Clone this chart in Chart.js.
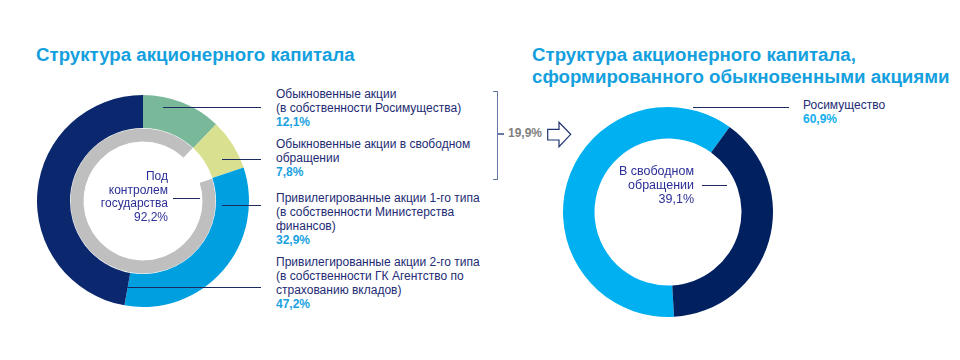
<!DOCTYPE html>
<html lang="ru">
  <head>
    <meta charset="UTF-8" />
    <title>Структура акционерного капитала</title>
    <style>
      body {
        margin: 0;
        width: 960px;
        height: 360px;
        background: #fff;
        position: relative;
        overflow: hidden;
        font-family: "Liberation Sans", Arial, sans-serif;
        color: #232b74;
      }
      .abs { position: absolute; }
      .title {
        font-size: 18.7px;
        font-weight: bold;
        color: #14a0de;
        line-height: 22px;
        white-space: nowrap;
      }
      .lbl {
        font-size: 12px;
        line-height: 14px;
        white-space: nowrap;
      }
      .pct { color: #1aa2e0; font-weight: bold; }
      .center {
        font-size: 12px;
        line-height: 13.6px;
        text-align: right;
        color: #2b2e96;
        white-space: nowrap;
      }
      .lead { position: absolute; height: 1px; background: #1d2a62; }
      .chart { position: absolute; width: 220px; height: 220px; }
    </style>
  </head>
  <body>
    <div class="abs title" style="left: 36px; top: 44px">Структура акционерного капитала</div>
    <div class="abs title" style="left: 532px; top: 44px">
      Структура акционерного капитала,<br />сформированного обыкновенными акциями
    </div>

    <div class="chart" style="left: 32.5px; top: 91px"><canvas id="leftChart" width="220" height="220"></canvas></div>
    <div class="chart" style="left: 558.3px; top: 102px"><canvas id="rightChart" width="220" height="220"></canvas></div>

    <!-- подписи левой диаграммы -->
    <div class="abs lbl" style="left: 276px; top: 87px">
      Обыкновенные акции<br />(в собственности Росимущества)<br /><span class="pct" id="v0"></span>
    </div>
    <div class="abs lbl" style="left: 276px; top: 137px">
      Обыкновенные акции в свободном<br />обращении<br /><span class="pct" id="v1"></span>
    </div>
    <div class="abs lbl" style="left: 276px; top: 191px">
      Привилегированные акции 1-го типа<br />(в собственности Министерства<br />финансов)<br /><span class="pct" id="v2"></span>
    </div>
    <div class="abs lbl" style="left: 276px; top: 255px">
      Привилегированные акции 2-го типа<br />(в собственности ГК Агентство по<br />страхованию вкладов)<br /><span class="pct" id="v3"></span>
    </div>

    <div class="abs center" style="right: 792px; top: 170px">
      Под<br />контролем<br />государства<br /><span id="vState"></span>
    </div>

    <div class="lead" style="left: 163px; width: 98px; top: 107px"></div>
    <div class="lead" style="left: 222px; width: 39px; top: 159px"></div>
    <div class="lead" style="left: 222px; width: 39px; top: 205px"></div>
    <div class="lead" style="left: 127px; width: 134px; top: 287px"></div>
    <div class="lead" style="left: 173px; width: 27px; top: 198px"></div>

    <!-- скобка и стрелка -->
    <div class="abs" style="left: 493px; top: 91px; width: 4px; height: 87px; border: 1.5px solid #6878a6; border-left: none"></div>
    <div class="abs" style="left: 498px; top: 133px; width: 6px; height: 1.5px; background: #6878a6"></div>
    <div class="abs lbl" id="sumLbl" style="left: 508px; top: 126px; color: #808080; font-weight: bold"></div>
    <svg class="abs" style="left: 540px; top: 118px" width="40" height="34">
      <polygon points="7.7,11.3 19,11.3 19,4.3 30.7,16.3 19,28.7 19,22 7.7,22" fill="#fff" stroke="#1f3370" stroke-width="1.2" />
    </svg>

    <!-- подписи правой диаграммы -->
    <div class="abs lbl" style="left: 803px; top: 99px; line-height: 13.5px">
      Росимущество<br /><span class="pct" id="r0" style="color: #12aeec"></span>
    </div>
    <div class="abs center" style="right: 266px; top: 164px; line-height: 14px; font-size: 12.5px">
      В свободном<br />обращении<br /><span id="r1"></span>
    </div>
    <div class="lead" style="left: 693px; width: 96px; top: 107px"></div>
    <div class="lead" style="left: 702px; width: 25px; top: 185px"></div>

    <script src="https://cdn.jsdelivr.net/npm/chart.js"></script>
    <script>
      // структура акционерного капитала, %
      const leftLabels = [
        "Обыкновенные акции (в собственности Росимущества)",
        "Обыкновенные акции в свободном обращении",
        "Привилегированные акции 1-го типа (в собственности Министерства финансов)",
        "Привилегированные акции 2-го типа (в собственности ГК Агентство по страхованию вкладов)",
      ];
      const leftValues = [12.1, 7.8, 32.9, 47.2];
      const leftColors = ["#7ab89a", "#d9e08f", "#00a0e0", "#0b286e"];

      // под контролем государства / остальное
      const stateLabels = ["Под контролем государства", ""];
      const stateValues = [92.2, 7.8];

      // обыкновенные акции
      const rightLabels = ["Росимущество", "В свободном обращении"];
      const rightValues = [60.9, 39.1];
      const rightColors = ["#00b0f0", "#002060"];

      const fmt = (v) => v.toFixed(1).replace(".", ",") + "%";
      leftValues.forEach((v, i) => (document.getElementById("v" + i).textContent = fmt(v)));
      document.getElementById("vState").textContent = fmt(stateValues[0]);
      document.getElementById("sumLbl").textContent = fmt(leftValues[0] + leftValues[1]);
      document.getElementById("r0").textContent = fmt(rightValues[0]);
      document.getElementById("r1").textContent = fmt(rightValues[1]);

      const commonOptions = {
        responsive: false,
        animation: false,
        events: [],
        layout: { padding: 0 },
        plugins: { legend: { display: false }, tooltip: { enabled: false } },
      };

      new Chart(document.getElementById("leftChart"), {
        type: "doughnut",
        data: {
          labels: leftLabels,
          datasets: [
            {
              data: leftValues,
              backgroundColor: leftColors,
              borderWidth: 0,
              weight: 33,
            },
            {
              data: stateValues,
              backgroundColor: ["#bfbfbf", "rgba(0,0,0,0)"],
              borderColor: "#fff",
              borderWidth: 1,
              weight: 14,
              // серое кольцо начинается после обыкновенных акций
              rotation: (leftValues[0] + leftValues[1]) * 3.6,
            },
          ],
        },
        options: { ...commonOptions, radius: 106, cutout: "55.7%" },
      });

      new Chart(document.getElementById("rightChart"), {
        type: "doughnut",
        data: {
          labels: rightLabels,
          datasets: [
            {
              data: rightValues,
              backgroundColor: rightColors,
              borderWidth: 0,
            },
          ],
        },
        options: { ...commonOptions, radius: 105, cutout: "70%", rotation: 176.7 },
      });
    </script>
  </body>
</html>
